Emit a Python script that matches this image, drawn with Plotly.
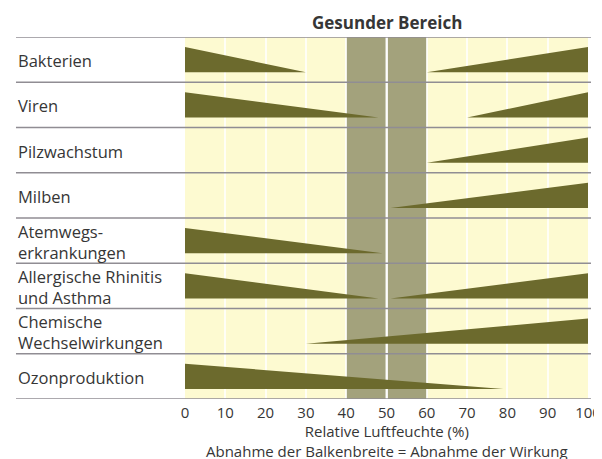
import plotly.graph_objects as go

# ---- data ----
categories = [
    "Bakterien",
    "Viren",
    "Pilzwachstum",
    "Milben",
    "Atemwegs-<br>erkrankungen",
    "Allergische Rhinitis<br>und Asthma",
    "Chemische<br>Wechselwirkungen",
    "Ozonproduktion",
]
# left wedge: from 0 % to left_end (None = no wedge)
left_end = [30, 48, None, None, 49, 48, None, 79]
# right wedge: from right_start to 100 % (None = no wedge)
right_start = [60, 70, 60, 51, None, 51, 30, None]
healthy_range = [40, 60]
healthy_mid = 50
x_ticks = [0, 10, 20, 30, 40, 50, 60, 70, 80, 90, 100]
title_text = "Gesunder Bereich"
xlabel_1 = "Relative Luftfeuchte (%)"
xlabel_2 = "Abnahme der Balkenbreite = Abnahme der Wirkung"

# ---- styles ----
OLIVE = "#6c6a2d"
BAND = "#a3a27c"
YELLOW = "#fdfad1"
LINE = "#908d93"
TEXT = "#363636"
FONT = "Open Sans"
H = 0.28  # half bar thickness in row units

fig = go.Figure()

for i, (le, rs) in enumerate(zip(left_end, right_start)):
    if le is not None:
        fig.add_trace(go.Scatter(
            x=[0, 0, le, 0], y=[i - H, i + H, i + H, i - H],
            mode="lines", fill="toself", fillcolor=OLIVE,
            line=dict(width=0, color=OLIVE), hoverinfo="skip", showlegend=False))
    if rs is not None:
        fig.add_trace(go.Scatter(
            x=[rs, 100, 100, rs], y=[i + H, i + H, i - H, i + H],
            mode="lines", fill="toself", fillcolor=OLIVE,
            line=dict(width=0, color=OLIVE), hoverinfo="skip", showlegend=False))

n = len(categories)
shapes = []
shapes.append(dict(type="rect", xref="x", yref="paper", x0=healthy_range[0], x1=healthy_range[1],
                   y0=0, y1=1, fillcolor=BAND, line=dict(width=0), layer="between"))
shapes.append(dict(type="line", xref="x", yref="paper", x0=healthy_mid, x1=healthy_mid,
                   y0=0, y1=1, line=dict(color="rgba(255,255,255,0.9)", width=2), layer="between"))
for k in range(n + 1):
    shapes.append(dict(type="line", xref="paper", yref="y", x0=-0.4194, x1=1.0074,
                       y0=k - 0.5, y1=k - 0.5, line=dict(color=LINE, width=1.5), layer="above"))

annotations = []
for i, c in enumerate(categories):
    annotations.append(dict(xref="paper", yref="y", x=-0.42, y=i, text=c, showarrow=False,
                            xanchor="left", yanchor="middle", align="left",
                            font=dict(family=FONT, size=16.5, color=TEXT), yshift=-1))
annotations.append(dict(xref="x", yref="paper", x=healthy_mid, y=1.0, yshift=15,
                        text="<b>" + title_text + "</b>",
                        showarrow=False, xanchor="center", yanchor="middle",
                        font=dict(family=FONT, size=17, color=TEXT)))
annotations.append(dict(xref="x", yref="paper", x=healthy_mid, y=0, yshift=-42,
                        text=xlabel_1 + "<br>" + xlabel_2,
                        showarrow=False, xanchor="center", yanchor="middle", align="center",
                        font=dict(family=FONT, size=15, color=TEXT)))

# page body has an 8px margin: place the plot area 8px up/left inside the figure
fig.update_layout(
    width=602, height=459,
    margin=dict(l=177, r=22, t=29, b=68, autoexpand=False),
    paper_bgcolor="white", plot_bgcolor=YELLOW,
    shapes=shapes, annotations=annotations,
    xaxis=dict(range=[0, 100], tickvals=x_ticks, ticktext=[str(t) for t in x_ticks],
               showgrid=True, gridcolor="rgba(255,255,255,0.8)", gridwidth=1.5,
               zeroline=False, showline=False, ticks="", automargin=False,
               ticklabelstandoff=3,
               tickfont=dict(family=FONT, size=15, color=TEXT), fixedrange=True),
    yaxis=dict(range=[n - 0.5, -0.5], showticklabels=False, showgrid=False,
               zeroline=False, showline=False, ticks="", automargin=False, fixedrange=True),
    showlegend=False,
)

fig.write_html("out.html")
